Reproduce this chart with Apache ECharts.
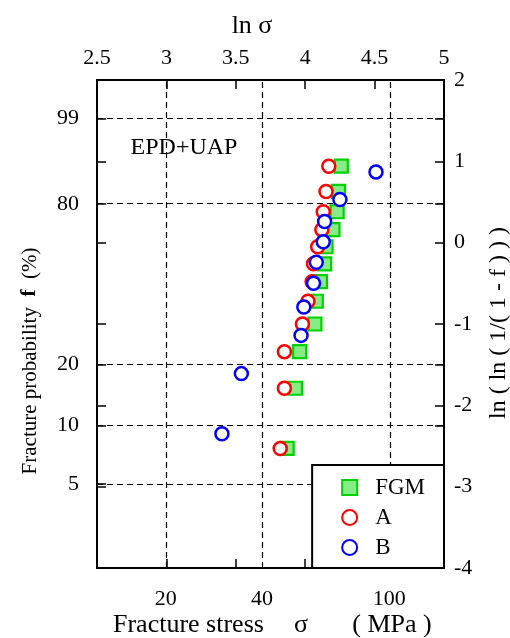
<!DOCTYPE html>
<html>
<head>
<meta charset="utf-8">
<title>Weibull plot of fracture stress</title>
<script src="https://cdn.jsdelivr.net/npm/echarts@6/dist/echarts.min.js"></script>
<style>
  html, body { margin: 0; padding: 0; background: #fff; }
  #chart { width: 510px; height: 638px; }
</style>
</head>
<body>
<div id="chart"></div>
<script>
// Weibull plot: x = ln(stress), y = ln(ln(1/(1-f)))
const seriesNames = ['FGM', 'A', 'B'];

const fgmLnStress = [3.87, 3.93, 3.96, 4.07, 4.08, 4.11, 4.14, 4.15, 4.20, 4.23, 4.24, 4.26];
const fgmLnLnF    = [-2.53, -1.79, -1.34, -1.00, -0.72, -0.48, -0.26, -0.05, 0.16, 0.38, 0.63, 0.94];

const aLnStress = [3.82, 3.85, 3.85, 3.98, 4.02, 4.05, 4.06, 4.09, 4.12, 4.13, 4.15, 4.17];
const aLnLnF    = [-2.53, -1.79, -1.34, -1.00, -0.72, -0.48, -0.26, -0.05, 0.16, 0.38, 0.63, 0.94];

const bLnStress = [3.40, 3.54, 3.97, 3.99, 4.06, 4.08, 4.13, 4.14, 4.25, 4.51];
const bLnLnF    = [-2.35, -1.61, -1.14, -0.79, -0.50, -0.24, 0.01, 0.26, 0.53, 0.87];

// Secondary scales: fracture probability (%) on the left, stress (MPa) at the bottom
const probTicks = [5, 10, 20, 80, 99];
const stressTicks = [20, 40, 100];
const lnLnTicks = [-3, -2, -1, 0, 1];

const probPos = probTicks.map(p => Math.log(Math.log(1 / (1 - p / 100))));
const stressPos = stressTicks.map(s => Math.log(s));

const FONT = 'Liberation Serif';

function pairs(xs, ys) { return xs.map((x, i) => [x, ys[i]]); }
function matchLabel(v, positions, labels) {
  const i = positions.findIndex(p => Math.abs(p - v) < 1e-6);
  return i >= 0 ? String(labels[i]) : '';
}

const tickStyle = { show: true, inside: true, length: 9, lineStyle: { color: '#000', width: 1.5 } };
const lineStyle = { show: true, onZero: false, lineStyle: { color: '#000', width: 2 } };
const dash = { color: '#000', width: 1.2, type: [6, 4] };

function label(text, x, y, size, extra) {
  return Object.assign({
    type: 'text', x: x, y: y, z: 20,
    style: { text: text, font: size + 'px "Liberation Serif"', fill: '#000', align: 'center', verticalAlign: 'middle' }
  }, extra || {});
}

const chart = echarts.init(document.getElementById('chart'), null, { renderer: 'canvas' });

chart.setOption({
  animation: false,
  backgroundColor: '#fff',
  grid: { left: 97, right: 66, top: 80, bottom: 70 },
  xAxis: [
    {
      type: 'value', position: 'top', min: 2.5, max: 5, interval: 0.5,
      axisLine: lineStyle, axisTick: tickStyle, splitLine: { show: false },
      axisLabel: { fontFamily: FONT, fontSize: 22, color: '#000', margin: 11 }
    },
    {
      type: 'value', position: 'bottom', min: 2.5, max: 5,
      axisLine: lineStyle,
      axisTick: Object.assign({}, tickStyle, { customValues: [3, 3.5, 4, 4.5] }),
      splitLine: { show: false },
      axisLabel: {
        fontFamily: FONT, fontSize: 22, color: '#000', margin: 20,
        customValues: stressPos,
        formatter: v => matchLabel(v, stressPos, stressTicks)
      }
    }
  ],
  yAxis: [
    {
      type: 'value', position: 'left', min: -4, max: 2,
      axisLine: lineStyle,
      axisTick: Object.assign({}, tickStyle, { customValues: probPos.concat(lnLnTicks) }),
      splitLine: { show: false },
      axisLabel: {
        fontFamily: FONT, fontSize: 22, color: '#000', margin: 18,
        customValues: probPos,
        formatter: v => matchLabel(v, probPos, probTicks)
      }
    },
    {
      type: 'value', position: 'right', min: -4, max: 2, interval: 1,
      axisLine: lineStyle,
      axisTick: Object.assign({}, tickStyle, { customValues: probPos.concat(lnLnTicks) }),
      splitLine: { show: false },
      axisLabel: { fontFamily: FONT, fontSize: 22, color: '#000', margin: 10 }
    }
  ],
  legend: {
    data: seriesNames,
    orient: 'vertical',
    right: 66, bottom: 70, z: 10,
    backgroundColor: '#fff',
    borderColor: '#000', borderWidth: 2, borderRadius: 0,
    padding: [11, 19, 9, 29],
    itemWidth: 15, itemHeight: 15, itemGap: 7,
    textStyle: { fontFamily: FONT, fontSize: 23, color: '#000', padding: [0, 0, 0, 13] }
  },
  series: [
    {
      name: 'grid-lines', type: 'line', data: [], xAxisIndex: 0, yAxisIndex: 1, z: 1,
      silent: true,
      markLine: {
        z: 1, silent: true, symbol: ['none', 'none'], animation: false,
        label: { show: false }, lineStyle: dash, emphasis: { disabled: true },
        data: stressPos.map(v => ({ xAxis: v })).concat(probPos.map(v => ({ yAxis: v })))
      }
    },
    {
      name: 'FGM', type: 'scatter', xAxisIndex: 0, yAxisIndex: 1, z: 3,
      symbol: 'rect', symbolSize: 13,
      itemStyle: { color: '#86ec86', borderColor: '#00d200', borderWidth: 2.2, opacity: 1 },
      data: pairs(fgmLnStress, fgmLnLnF)
    },
    {
      name: 'A', type: 'scatter', xAxisIndex: 0, yAxisIndex: 1, z: 4,
      symbol: 'circle', symbolSize: 13,
      itemStyle: { color: '#fff', borderColor: '#ff0000', borderWidth: 2.5, opacity: 1 },
      data: pairs(aLnStress, aLnLnF)
    },
    {
      name: 'B', type: 'scatter', xAxisIndex: 0, yAxisIndex: 1, z: 5,
      symbol: 'circle', symbolSize: 13,
      itemStyle: { color: '#fff', borderColor: '#0000ff', borderWidth: 2.5, opacity: 1 },
      data: pairs(bLnStress, bLnLnF)
    }
  ],
  graphic: [
    label('ln σ', 252, 26, 26),
    // bottom axis title in three pieces
    label('Fracture stress', 113, 625, 26, { style: { text: 'Fracture stress', font: '26px "Liberation Serif"', fill: '#000', align: 'left', verticalAlign: 'middle' } }),
    label('σ', 301, 625, 26),
    label('( MPa )', 392, 625, 26),
    {
      type: 'text', x: 30, y: 361, rotation: Math.PI / 2,
      style: {
        text: 'Fracture probability  {b|f}  (%)',
        font: '21px "Liberation Serif"', fill: '#000', align: 'center', verticalAlign: 'middle',
        rich: { b: { fontFamily: FONT, fontSize: 21, fontWeight: 'bold', fill: '#000' } }
      }
    },
    label('ln ( ln ( 1/( 1 - f ) ) )', 499, 323, 24, { rotation: Math.PI / 2 }),
    label('EPD+UAP', 184, 148, 24)
  ]
});
</script>
</body>
</html>
